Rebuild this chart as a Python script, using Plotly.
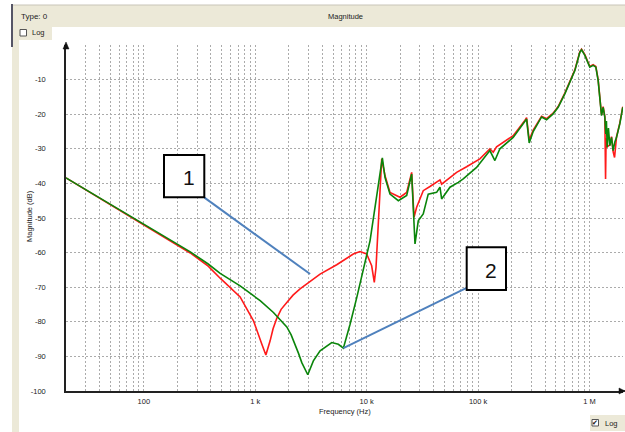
import math
import plotly.graph_objects as go

# ---- Measured magnitude responses ----
red_freq_hz = [20, 40.6, 98.6, 261, 378, 484, 731, 964, 1146, 1245, 1359, 1445, 1560, 1706,
               1919, 2183, 2523, 3818, 5383, 7586, 8710, 10000, 11090, 11710, 12130, 12470,
               13650, 14620, 16200, 19900, 22870, 25350, 26600, 28100, 32200, 37000, 45500,
               47100, 54000, 64200, 78900, 103800, 127700, 136800, 146600, 206600,
               263000, 272700, 287700, 312500, 371600, 412000, 472000, 523500, 601000,
               666700, 739500, 820000, 849000, 909000, 973000, 1007000, 1079000,
               1141000, 1197000, 1239000, 1283000, 1327000, 1374000, 1395000, 1410000,
               1442000, 1524000, 1578000, 1631000, 1680000, 1720000, 1750000, 1872000,
               1991000]
red_mag_db = [-38.4, -44.4, -51.8, -60.1, -63.9, -67.4, -72.8, -79.7, -86.5, -89.6, -85.5,
              -82.0, -79.0, -76.4, -74.4, -72.3, -70.5, -66.2, -63.5, -60.4, -59.7, -60.4,
              -63.8, -68.6, -64.3, -57.0, -32.9, -37.8, -42.6, -44.0, -42.6, -36.8, -49.8,
              -46.9, -42.1, -40.9, -39.0, -40.2, -38.7, -36.8, -35.2, -32.9, -30.0, -31.0,
              -29.4, -26.2, -21.8, -21.0, -27.5, -24.6, -20.6, -21.3, -19.7, -17.8, -13.9,
              -10.6, -7.2, -1.9, -1.2, -2.8, -5.2, -6.2, -5.7, -6.2, -10.1, -14.9, -20.2,
              -17.8, -20.7, -38.7, -27.0, -29.4, -28.9, -26.5, -30.8, -32.5, -28.0, -26.5,
              -22.6, -17.8]

green_freq_hz = [20, 40.6, 98.6, 261, 378, 484, 731, 1106, 1456, 1919, 2100, 2277, 2450,
                 2616, 2960, 3323, 3818, 4862, 5570, 6178, 7096, 8147, 9339, 10720, 13830,
                 14620, 16200, 19250, 22870, 25350, 27160, 29050, 32200, 35700, 42460,
                 45500, 47100, 55950, 66400, 73600, 97000, 127700, 141600, 157000, 206600,
                 263000, 272700, 287700, 312500, 371600, 412000, 472000, 523500, 601000,
                 666700, 739500, 820000, 849000, 909000, 973000, 1007000, 1079000,
                 1141000, 1197000, 1239000, 1283000, 1327000, 1374000, 1403000, 1420000,
                 1442000, 1480000, 1524000, 1578000, 1631000, 1690000, 1750000, 1872000,
                 1991000]
green_mag_db = [-38.4, -44.3, -51.6, -59.8, -63.3, -66.0, -69.6, -73.9, -77.3, -81.5, -83.8,
                -86.4, -89.2, -91.8, -95.3, -91.3, -88.4, -86.0, -86.5, -87.6, -80.7, -73.0,
                -65.2, -56.6, -32.6, -38.3, -43.1, -45.0, -43.5, -37.3, -57.5, -50.8, -48.8,
                -43.1, -42.6, -41.1, -44.5, -41.1, -39.7, -38.7, -35.4, -30.5, -33.4, -30.0,
                -26.7, -22.3, -21.4, -28.3, -25.0, -20.8, -21.6, -19.9, -18.0, -14.1, -10.8,
                -7.4, -2.1, -1.4, -3.0, -5.4, -6.4, -5.9, -6.4, -10.3, -15.1, -20.4, -18.0,
                -20.9, -25.7, -22.0, -29.6, -24.0, -29.1, -26.7, -30.5, -28.0, -26.7, -22.8,
                -18.0]

# ---- Axes ----
freq_range_hz = [20, 2e6]
mag_range_db = [-100, 0]
mag_ticks = [-100, -90, -80, -70, -60, -50, -40, -30, -20, -10]
mag_ticktext = ["-100", "-90", "-80", "-70", "-60", "-50", "-40", "-30", "-20", "-10"]
freq_decades = [100, 1e3, 1e4, 1e5, 1e6]
freq_decade_labels = ["100", "1 k", "10 k", "100 k", "1 M"]

# ---- Callouts: label, box-corner anchor, target point on the curve ----
callout_labels = ["1", "2"]
callout_start_hz = [350, 78900]
callout_start_db = [-44.1, -70.2]
callout_end_hz = [3105, 6178]
callout_end_db = [-66.2, -87.6]

# all 1..9 x decade gridline positions inside the frequency range
grid_hz = []
for e in range(1, 7):
    for m in range(1, 10):
        v = m * 10 ** e
        if freq_range_hz[0] <= v <= freq_range_hz[1]:
            grid_hz.append(v)
grid_text = [freq_decade_labels[freq_decades.index(v)] if v in freq_decades else ""
             for v in grid_hz]

# ---- page geometry (pixels) ----
FIG_W, FIG_H = 625, 432
L, R, T, B = 66, 2, 45, 41
W = FIG_W - L - R
H = FIG_H - T - B


def px(x):
    return (x - L) / W


def py(y):
    return 1 - (y - T) / H


BEIGE = "#ECE9D8"
GRID = "#ABABAB"
TXT = "#222222"
FONT = "Liberation Sans, Arial, sans-serif"

fig = go.Figure()

fig.add_trace(go.Scatter(x=red_freq_hz, y=red_mag_db, mode="lines",
                         line=dict(color="#FF1A1A", width=1.6), hoverinfo="skip"))
fig.add_trace(go.Scatter(x=green_freq_hz, y=green_mag_db, mode="lines",
                         line=dict(color="#0A850A", width=1.6), hoverinfo="skip"))

# start marker
fig.add_trace(go.Scatter(x=[green_freq_hz[0]], y=[green_mag_db[0] + 0.6], mode="markers",
                         marker=dict(symbol="x-thin-open", size=8, color="#777777",
                                     line=dict(color="#777777", width=1.2)),
                         cliponaxis=False, hoverinfo="skip"))

# callout leader lines
for i in range(len(callout_labels)):
    fig.add_trace(go.Scatter(x=[callout_start_hz[i], callout_end_hz[i]],
                             y=[callout_start_db[i], callout_end_db[i]], mode="lines",
                             line=dict(color="#4F81BD", width=2), hoverinfo="skip"))

shapes = []
annotations = []


def rect(x0, y0, x1, y1, fill, line_color=None, line_width=0):
    shapes.append(dict(type="rect", xref="paper", yref="paper",
                       x0=px(x0), x1=px(x1), y0=py(y1), y1=py(y0),
                       fillcolor=fill, layer="above",
                       line=dict(color=line_color or fill, width=line_width)))


def text(x, y, s, size=8, xanchor="left", color=TXT, angle=0, family=FONT):
    annotations.append(dict(xref="paper", yref="paper", x=px(x), y=py(y), text=s,
                            showarrow=False, xanchor=xanchor, yanchor="middle",
                            textangle=angle, font=dict(family=family, size=size, color=color)))


# window chrome
rect(12, 5, 625, 27, BEIGE)
shapes.append(dict(type="line", xref="paper", yref="paper", x0=px(12), x1=px(625),
                   y0=py(5), y1=py(5), line=dict(color="#C8C5B8", width=1), layer="above"))
rect(12, 27, 19, 432, BEIGE)
rect(12, 27, 52, 40, BEIGE)
shapes.append(dict(type="line", xref="paper", yref="paper", x0=px(12), x1=px(12),
                   y0=py(4), y1=py(47), line=dict(color="#555566", width=2), layer="above"))
rect(20, 29.5, 26.5, 36, "#FFFFFF", "#555555", 1)
text(19, 16.5, "Type: 0")
text(345, 16.5, "Magnitude", size=7.5, xanchor="center")
text(30, 33, "Log", size=7.5)

rect(590, 415, 625, 431, BEIGE)
rect(592, 419.5, 598.5, 426, "#FFFFFF", "#555555", 1)
text(595.3, 422.5, "✔", size=7, xanchor="center", color="#111111", family="DejaVu Sans")
text(603, 423, "Log", size=7.5)

# axis arrows
shapes.append(dict(type="path", xref="paper", yref="paper", layer="above",
                   path=f"M {px(66)},{py(42)} L {px(63)},{py(49)} L {px(69)},{py(49)} Z",
                   fillcolor="#111111", line=dict(color="#111111", width=0.5)))
shapes.append(dict(type="line", xref="paper", yref="paper", x0=px(622), x1=px(625),
                   y0=py(391), y1=py(391), line=dict(color="#222222", width=1.5), layer="above"))
shapes.append(dict(type="path", xref="paper", yref="paper", layer="above",
                   path=f"M {px(625)},{py(391)} L {px(619)},{py(388)} L {px(619)},{py(394)} Z",
                   fillcolor="#111111", line=dict(color="#111111", width=0.5)))

# axis titles
text(345, 411, "Frequency (Hz)", size=7.5, xanchor="center")
text(30, 216, "Magnitude (dB)", size=7.5, xanchor="center", angle=-90)

# callout boxes
box_px = [(164, 155, 204.3, 197.3), (466.7, 247.3, 506, 290)]
for lab, (x0, y0, x1, y1) in zip(callout_labels, box_px):
    rect(x0, y0, x1, y1, "#FFFFFF", "#000000", 2)
    text((x0 + x1) / 2 + 5, (y0 + y1) / 2 + 1.5, lab, size=21, xanchor="center",
         color="#111111")

fig.update_layout(
    width=FIG_W, height=FIG_H,
    margin=dict(l=L, r=R, t=T, b=B, pad=0),
    paper_bgcolor="#FFFFFF", plot_bgcolor="#FFFFFF",
    showlegend=False,
    shapes=shapes, annotations=annotations,
    xaxis=dict(type="log", range=[math.log10(freq_range_hz[0]), math.log10(freq_range_hz[1])],
               tickmode="array", tickvals=grid_hz, ticktext=grid_text, ticks="",
               showgrid=True, gridcolor=GRID, griddash="2px,2px", gridwidth=1,
               showline=True, linecolor="#222222", linewidth=1.5, zeroline=False,
               tickfont=dict(family=FONT, size=7.5, color=TXT), ticklabelstandoff=2),
    yaxis=dict(range=mag_range_db, tickmode="array", tickvals=mag_ticks,
               ticktext=mag_ticktext, ticks="",
               showgrid=True, gridcolor=GRID, griddash="2px,2px", gridwidth=1,
               showline=True, linecolor="#222222", linewidth=1.5, zeroline=False,
               tickfont=dict(family=FONT, size=7.5, color=TXT), ticklabelstandoff=17),
)

fig.write_html("out.html")
